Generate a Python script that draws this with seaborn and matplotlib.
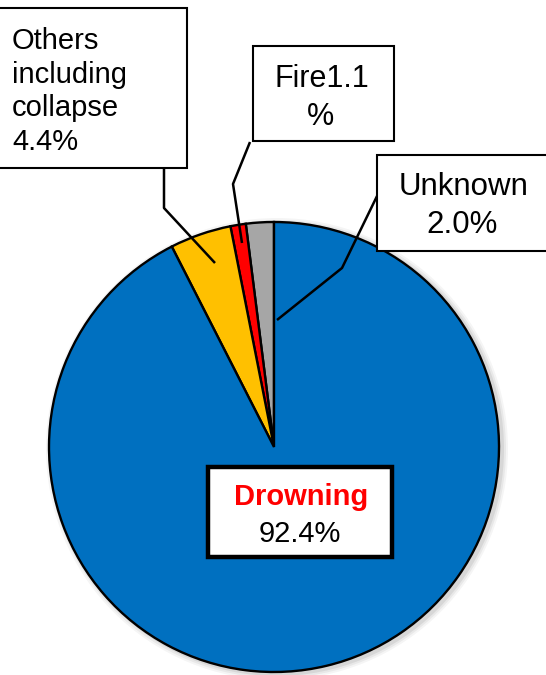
import matplotlib
matplotlib.use("Agg")
import matplotlib.pyplot as plt
from matplotlib.patches import Rectangle, Circle
import seaborn as sns

# Causes of death, in percent (drawn counter-clockwise from 12 o'clock)
causes = ["Unknown", "Fire", "Others including collapse", "Drowning"]
shares = [2.0, 1.1, 4.4, 92.4]
slice_colors = ["#A6A6A6", "#FF0000", "#FFC000", "#0070C0"]

sns.set_theme(style="white")
plt.rcParams["font.family"] = ["Liberation Sans", "DejaVu Sans"]
plt.rcParams["text.color"] = "black"

W, H = 546, 675
fig = plt.figure(figsize=(W / 100, H / 100), dpi=100)
ax = fig.add_axes([0, 0, 1, 1])
ax.set_xlim(0, W)
ax.set_ylim(0, H)
ax.set_aspect("equal")
ax.axis("off")


def Y(y):
    """Convert a top-down pixel row to axis units."""
    return H - y


cx, cy, r = 274, 447, 225

# soft shadow under the pie
for k, a in [(6, 0.04), (4, 0.05), (2, 0.07)]:
    ax.add_patch(Circle((cx + 3, Y(cy) - 2), r + k, color="black", alpha=a,
                        lw=0, zorder=0))

ax.pie(shares, colors=slice_colors, startangle=90, counterclock=True,
       center=(cx, Y(cy)), radius=r, frame=True,
       wedgeprops=dict(edgecolor="black", linewidth=1.7))
ax.set_xlim(0, W)
ax.set_ylim(0, H)
ax.axis("off")

share = dict(zip(causes, shares))


def box(x0, y0, x1, y1, lw=1.5):
    ax.add_patch(Rectangle((x0, Y(y1)), x1 - x0, y1 - y0, facecolor="white",
                           edgecolor="black", linewidth=lw, zorder=5,
                           clip_on=False))


def leader(points):
    xs = [p[0] for p in points]
    ys = [Y(p[1]) for p in points]
    ax.plot(xs, ys, color="black", lw=1.8, zorder=4, solid_capstyle="butt")


def line(x, y, s, size, ha="center", **kw):
    ax.text(x, Y(y), s, ha=ha, va="baseline", fontsize=size, color=kw.pop(
        "color", "black"), zorder=6, **kw)


# Others including collapse
leader([(164, 168), (164, 208), (215, 263)])
box(-2, 8, 187, 168)
for i, s in enumerate(["Others", "including", "collapse",
                       f"{share['Others including collapse']:.1f}%"]):
    line(12, 49 + i * 33.7, s, 21, ha="left")

# Fire
leader([(250, 142), (233, 184), (242, 243)])
box(253, 46, 394, 141)
fire_txt = f"Fire{share['Fire']:.1f}%"
line(322, 87, fire_txt[:-1], 22)
line(321, 125, fire_txt[-1], 22)

# Unknown
leader([(379, 192), (342, 268), (277, 320)])
box(377, 155, 552, 251)
line(464, 195, "Unknown", 22.5)
line(462, 233, f"{share['Unknown']:.1f}%", 22.5)

# Drowning
box(208, 467, 392, 557, lw=3.2)
line(301, 505, "Drowning", 21, color="#FF0000", fontweight="bold")
line(300, 542, f"{share['Drowning']:.1f}%", 21)

fig.savefig("out.png", dpi=100)
